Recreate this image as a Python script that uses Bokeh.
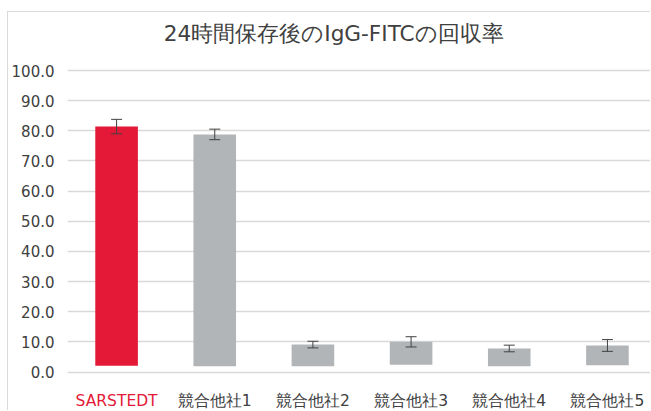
from bokeh.plotting import figure
from bokeh.models import (Range1d, FixedTicker, ColumnDataSource, Whisker, TeeHead,
                          NumeralTickFormatter)
from bokeh.core.properties import value
from bokeh.embed import file_html
from bokeh.resources import INLINE

# ---- data ----
categories = ["SARSTEDT", "競合他社1", "競合他社2", "競合他社3", "競合他社4", "競合他社5"]
values = [81.4, 78.8, 9.1, 10.0, 7.8, 8.8]
errors = [2.4, 1.75, 1.1, 1.7, 1.1, 1.95]
bar_base = [2.1, 1.9, 1.9, 2.4, 1.9, 2.2]
y_ticks = [0, 10, 20, 30, 40, 50, 60, 70, 80, 90, 100]
title_text = "24時間保存後のIgG-FITCの回収率"

RED = "#e31937"
GRAY = "#b2b5b8"
TXT = "#404040"
FONT = "DejaVu Sans"

xs = list(range(len(categories)))
colors = [RED] + [GRAY] * (len(categories) - 1)
label_colors = [RED] + [TXT] * (len(categories) - 1)

# layout constants (data-space anchors for text)
LABEL_Y = -9.75
TITLE_X = 2.212
TITLE_Y = 112.3

src = ColumnDataSource(dict(
    x=xs, top=values, bottom=bar_base, color=colors,
    upper=[v + e for v, e in zip(values, errors)],
    lower=[v - e for v, e in zip(values, errors)],
))
lab_src = ColumnDataSource(dict(x=xs, y=[LABEL_Y] * len(xs), text=categories, color=label_colors))

p = figure(width=643, height=399,
           x_range=Range1d(-0.5, 5.449), y_range=Range1d(-13.1, 119.24),
           output_backend="svg", toolbar_location=None, x_axis_location=None,
           min_border_left=54, min_border_right=0, min_border_top=0, min_border_bottom=0)
p.styles = {"margin-left": "7px", "margin-top": "11px",
            "border-left": "1px solid #d9d9d9", "border-top": "1px solid #d9d9d9"}
p.background_fill_color = "white"
p.border_fill_color = "white"
p.outline_line_color = None

# title
p.text(x=[TITLE_X], y=[TITLE_Y], text=[title_text], text_color=TXT,
       text_align="center", text_baseline="middle",
       text_font=value(FONT), text_font_size="21.6px")

# bars
p.vbar(x="x", top="top", bottom="bottom", width=0.434, source=src,
       fill_color="color", line_color=None)

# error bars
p.add_layout(Whisker(base="x", upper="upper", lower="lower", source=src, level="overlay",
                     line_color=TXT, line_width=1,
                     upper_head=TeeHead(size=11, line_color=TXT, line_width=1),
                     lower_head=TeeHead(size=11, line_color=TXT, line_width=1)))

# category labels
p.text(x="x", y="y", text="text", source=lab_src, text_color="color",
       text_align="center", text_baseline="alphabetic",
       text_font=value(FONT), text_font_size="15.5px")

# y axis
p.yaxis.ticker = FixedTicker(ticks=y_ticks)
p.yaxis.formatter = NumeralTickFormatter(format="0.0")
p.yaxis.axis_line_color = None
p.yaxis.major_tick_line_color = None
p.yaxis.minor_tick_line_color = None
p.yaxis.major_label_text_font = FONT
p.yaxis.major_label_text_font_size = "15px"
p.yaxis.major_label_text_color = TXT
p.yaxis.major_label_standoff = 7

# grid
p.xgrid.grid_line_color = None
p.ygrid.ticker = FixedTicker(ticks=y_ticks)
p.ygrid.grid_line_color = "#d9d9d9"
p.ygrid.grid_line_width = 1.5

open("out.html", "w").write(file_html(p, INLINE))
